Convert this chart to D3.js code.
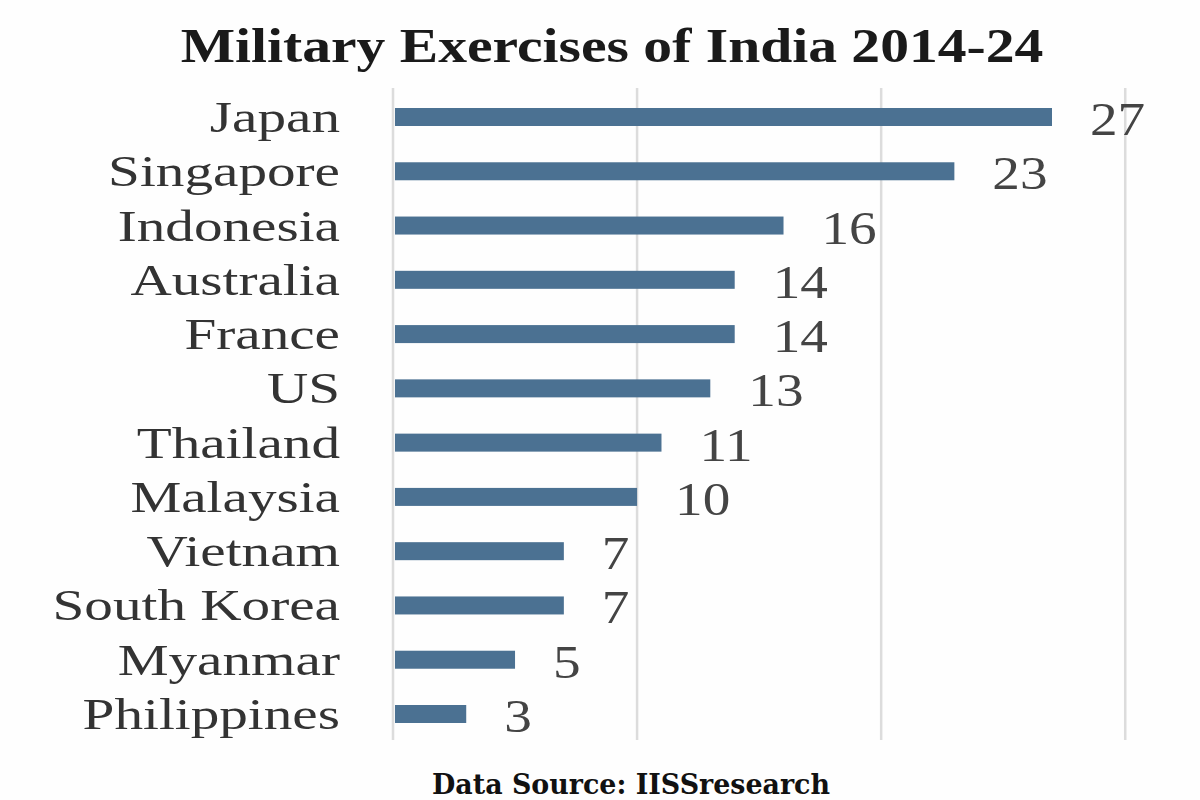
<!DOCTYPE html>
<html>
<head>
<meta charset="utf-8">
<script src="https://cdn.jsdelivr.net/npm/d3@7"></script>
<style>
  body { margin: 0; background: #fff; }
  svg { display: block; }
</style>
</head>
<body>
<svg id="chart" width="1200" height="800"></svg>
<script>
// values
var countries = ["Japan", "Singapore", "Indonesia", "Australia", "France", "US",
                 "Thailand", "Malaysia", "Vietnam", "South Korea", "Myanmar", "Philippines"];
var exercises = [27, 23, 16, 14, 14, 13, 11, 10, 7, 7, 5, 3];
var gridTicks = [0, 10, 20, 30];

var titleText = "Military Exercises of India 2014-24";
var sourceText = "Data Source: IISSresearch";

function drawChart() {
    var svg = d3.select("svg#chart");
    var barColor = "#4b7192";
    var serif = "'Liberation Serif', 'Times New Roman', serif";

    var x = d3.scaleLinear()
                .domain([0, 27])
                .range([393, 1052]);

    var y = d3.scalePoint()
                .domain(countries)
                .range([117, 714]);

    var data = countries.map((c, i) => ({name: c, value: exercises[i]}));

    svg.append("rect")
        .attr("width", 1200)
        .attr("height", 800)
        .attr("fill", "#fefefe");

    // vertical gridlines
    svg.selectAll("line.grid")
        .data(gridTicks)
        .enter()
        .append("line")
        .attr("class", "grid")
        .attr("x1", d => x(d))
        .attr("x2", d => x(d))
        .attr("y1", 88)
        .attr("y2", 740)
        .attr("stroke", "#dcdcdc")
        .attr("stroke-width", 2.5);

    svg.selectAll("rect.bar")
        .data(data)
        .enter()
        .append("rect")
        .attr("class", "bar")
        .attr("x", x(0) + 2)
        .attr("y", d => y(d.name) - 9)
        .attr("width", d => x(d.value) - x(0) - 2)
        .attr("height", 18)
        .attr("fill", barColor);

    // category labels
    svg.selectAll("text.cat")
        .data(data)
        .enter()
        .append("text")
        .attr("class", "cat")
        .attr("transform", d => "translate(340," + (y(d.name) + 15) + ") scale(1.3,1)")
        .attr("text-anchor", "end")
        .attr("font-family", serif)
        .attr("font-size", 44)
        .attr("fill", "#333")
        .text(d => d.name);

    // value labels
    svg.selectAll("text.val")
        .data(data)
        .enter()
        .append("text")
        .attr("class", "val")
        .attr("transform", d => "translate(" + (x(d.value) + 38) + "," + (y(d.name) + 18) + ") scale(1.2,1)")
        .attr("font-family", serif)
        .attr("font-size", 46)
        .attr("fill", "#444")
        .text(d => d.value);

    svg.append("text")
        .attr("transform", "translate(612,62) scale(1.2,1)")
        .attr("text-anchor", "middle")
        .attr("font-family", serif)
        .attr("font-weight", "bold")
        .attr("font-size", 48)
        .attr("fill", "#1a1a1a")
        .text(titleText);

    svg.append("text")
        .attr("x", 432)
        .attr("y", 794)
        .attr("textLength", 398)
        .attr("lengthAdjust", "spacingAndGlyphs")
        .attr("font-family", "'DejaVu Serif', serif")
        .attr("font-weight", "bold")
        .attr("font-size", 27)
        .attr("fill", "#111")
        .text(sourceText);
}

drawChart();
</script>
</body>
</html>
